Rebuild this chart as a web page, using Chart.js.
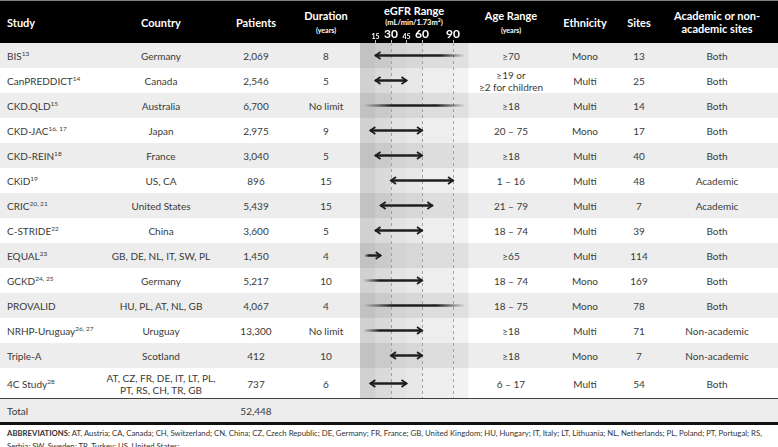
<!DOCTYPE html>
<html>
<head>
<meta charset="utf-8">
<script src="https://cdn.jsdelivr.net/npm/chart.js@4.4.0/dist/chart.umd.min.js"></script>
<style>
body { margin:0; width:778px; height:447px; overflow:hidden; background:#fff; font-family:Lato, 'Noto Sans', sans-serif; color:#3a3a3a; position:relative; }
.row { position:absolute; left:0; width:778px; }
.cell { position:absolute; top:0; height:100%; width:200px; display:flex; flex-direction:column; align-items:center; justify-content:center; text-align:center; font-size:10px; line-height:12px; white-space:nowrap; }
.cell.left { align-items:flex-start; text-align:left; width:180px; }
sup { font-size:6.5px; vertical-align:4px; line-height:0; }
.hdr { position:absolute; left:0; top:0; width:778px; height:43px; background:#000; color:#fff; border-top:1px solid #808080; box-sizing:border-box; }
.hdr .cell { font-weight:bold; font-size:11px; line-height:13px; }
.hdr .sub { font-size:7px; line-height:10px; }
.line { position:absolute; left:0; width:778px; z-index:6; }
#abbr { position:absolute; left:7px; top:427px; font-size:7.75px; line-height:12.5px; color:#333; white-space:nowrap; }
#wrap { position:absolute; left:350px; top:0; width:130px; height:399px; z-index:5; }
</style>
</head>
<body>
<div class="hdr" id="hdr"></div>
<div id="rows"></div>
<div class="line" style="top:397.5px;height:1.6px;background:#404040"></div>
<div class="row" style="top:399px;height:23px;background:#ededed">
  <div class="cell left" style="left:7px">Total</div>
  <div class="cell" style="left:156px">52,448</div>
</div>
<div class="line" style="top:422px;height:2.5px;background:#111"></div>
<div id="abbr"><b>ABBREVIATIONS:</b> AT, Austria; CA, Canada; CH, Switzerland; CN, China; CZ, Czech Republic; DE, Germany; FR, France; GB, United Kingdom; HU, Hungary; IT, Italy; LT, Lithuania; NL, Netherlands; PL, Poland; PT, Portugal; RS,<br>Serbia; SW, Sweden; TR, Turkey; US, United States;</div>
<div id="wrap"><canvas id="myChart" width="130" height="399"></canvas></div>

<script>
// table data
var studyNames = ['BIS', 'CanPREDDICT', 'CKD.QLD', 'CKD-JAC', 'CKD-REIN', 'CKiD', 'CRIC', 'C-STRIDE', 'EQUAL', 'GCKD', 'PROVALID', 'NRHP-Uruguay', 'Triple-A', '4C Study'];
var studyRefs = ['13', '14', '15', '16, 17', '18', '19', '20, 21', '22', '23', '24, 25', '', '26, 27', '', '28'];
var countries = ['Germany', 'Canada', 'Australia', 'Japan', 'France', 'US, CA', 'United States', 'China', 'GB, DE, NL, IT, SW, PL', 'Germany', 'HU, PL, AT, NL, GB', 'Uruguay', 'Scotland', 'AT, CZ, FR, DE, IT, LT, PL,|PT, RS, CH, TR, GB'];
var patients = ['2,069', '2,546', '6,700', '2,975', '3,040', '896', '5,439', '3,600', '1,450', '5,217', '4,067', '13,300', '412', '737'];
var durations = ['8', '5', 'No limit', '9', '5', '15', '15', '5', '4', '10', '4', 'No limit', '10', '6'];
var ageRanges = ['≥70', '≥19 or|≥2 for children', '≥18', '20 – 75', '≥18', '1 – 16', '21 – 79', '18 – 74', '≥65', '18 – 74', '18 – 75', '≥18', '≥18', '6 – 17'];
var ethnicity = ['Mono', 'Multi', 'Multi', 'Mono', 'Multi', 'Multi', 'Multi', 'Multi', 'Multi', 'Mono', 'Mono', 'Multi', 'Mono', 'Multi'];
var sites = ['13', '25', '14', '17', '40', '48', '7', '39', '114', '169', '78', '71', '7', '54'];
var siteTypes = ['Both', 'Both', 'Both', 'Both', 'Both', 'Academic', 'Academic', 'Both', 'Both', 'Both', 'Both', 'Non-academic', 'Non-academic', 'Both'];

// eGFR ranges (mL/min/1.73m2), 'open' = faded end
var egfrLow = [15, 15, 3, 10, 15, 30, 20, 15, 4, 3, 3, 3, 30, 10];
var egfrHigh = [102, 45, 102, 60, 60, 90, 70, 60, 20, 60, 102, 60, 60, 45];
var lowEnd = ['arrow', 'arrow', 'open', 'arrow', 'arrow', 'arrow', 'arrow', 'arrow', 'open', 'open', 'open', 'open', 'arrow', 'arrow'];
var highEnd = ['open', 'arrow', 'open', 'arrow', 'arrow', 'arrow', 'arrow', 'arrow', 'arrow', 'arrow', 'open', 'arrow', 'arrow', 'arrow'];
var tickValues = [15, 30, 45, 60, 90];
var bigTicks = [30, 60, 90];

// layout
var rowHeights = [25, 25, 25, 25, 25, 25, 25, 25, 25, 25, 25, 25, 25, 31];
var headTop = 43;
var colX = { country: 161, patients: 256, duration: 326, age: 511, eth: 585, sites: 639, acad: 717 };

function cell(cx, html, cls) {
    var lines = html.split('|').map(function (t) { return '<div>' + t + '</div>'; }).join('');
    return '<div class="cell ' + (cls || '') + '" style="left:' + (cx - 100) + 'px">' + lines + '</div>';
}

// header
var hdr = '<div class="cell left" style="left:7px">Study</div>';
hdr += cell(colX.country, 'Country');
hdr += cell(colX.patients, 'Patients');
hdr += cell(colX.duration, 'Duration|<span class="sub">(years)</span>');
hdr += '<div class="cell" style="left:314px;height:auto;top:3px">eGFR Range</div>';
hdr += '<div class="cell" style="left:314px;height:auto;top:17px"><span class="sub" style="font-size:7.5px">(mL/min/1.73m<sup style="font-size:5px;vertical-align:3px">2</sup>)</span></div>';
hdr += cell(colX.age, 'Age Range|<span class="sub">(years)</span>');
hdr += cell(colX.eth, 'Ethnicity');
hdr += cell(colX.sites, 'Sites');
hdr += cell(colX.acad, 'Academic or non-|academic sites');
document.getElementById('hdr').innerHTML = hdr;

// body rows
var rowCenters = [];
var html = '';
var rowTop = headTop;
for (var i = 0; i < studyNames.length; i++) {
    var h = rowHeights[i];
    rowCenters.push(rowTop - headTop + h / 2);
    var name = '<span>' + studyNames[i] + (studyRefs[i] ? '<sup>' + studyRefs[i] + '</sup>' : '') + '</span>';
    html += '<div class="row" style="top:' + rowTop + 'px;height:' + h + 'px;background:' + (i % 2 === 0 ? '#ededed' : '#fff') + '">';
    html += '<div class="cell left" style="left:7px">' + name + '</div>';
    html += cell(colX.country, countries[i]);
    html += cell(colX.patients, patients[i]);
    html += cell(colX.duration, durations[i]);
    html += cell(colX.age, ageRanges[i]);
    html += cell(colX.eth, ethnicity[i]);
    html += cell(colX.sites, sites[i]);
    html += cell(colX.acad, siteTypes[i]);
    html += '</div>';
    rowTop += h;
}
document.getElementById('rows').innerHTML = html;
var bodyHeight = rowTop - headTop;

// shaded eGFR band behind the ranges
var bandSteps = [0, 15, 30, 45, 60, 90, 105];
var bandAlpha = [0.18, 0.145, 0.11, 0.09, 0.065, 0.05];

var bandPlugin = {
    id: 'band',
    beforeDraw: function (chart) {
        var ctx = chart.ctx, x = chart.scales.x, a = chart.chartArea;
        for (var k = 0; k < bandAlpha.length; k++) {
            var x0 = x.getPixelForValue(bandSteps[k]);
            var x1 = x.getPixelForValue(bandSteps[k + 1]);
            ctx.fillStyle = 'rgba(0,0,0,' + bandAlpha[k] + ')';
            ctx.fillRect(x0, a.top, x1 - x0, a.bottom - a.top);
        }
    }
};

function drawHead(ctx, tip, y, dir) {
    ctx.beginPath();
    ctx.moveTo(tip - dir * 5, y - 3.5);
    ctx.lineTo(tip, y);
    ctx.lineTo(tip - dir * 5, y + 3.5);
    ctx.stroke();
}

var arrowPlugin = {
    id: 'arrows',
    afterDatasetsDraw: function (chart) {
        var ctx = chart.ctx, x = chart.scales.x;
        var meta = chart.getDatasetMeta(0);
        ctx.save();
        ctx.strokeStyle = '#1e1e1e';
        ctx.lineWidth = 1.8;
        meta.data.forEach(function (bar, i) {
            if (lowEnd[i] === 'arrow') drawHead(ctx, x.getPixelForValue(egfrLow[i]), bar.y, -1);
            if (highEnd[i] === 'arrow') drawHead(ctx, x.getPixelForValue(egfrHigh[i]), bar.y, 1);
        });
        ctx.restore();
    }
};

function DrawChart() {
    var ctx = document.getElementById('myChart').getContext('2d');

    var myChart = new Chart(ctx, {
        type: 'bar',
        data: {
            datasets: [{
                data: egfrLow.map(function (lo, i) { return { x: [lo, egfrHigh[i]], y: rowCenters[i] }; }),
                barThickness: 2,
                borderWidth: 0,
                borderSkipped: false,
                backgroundColor: function (c) {
                    var chart = c.chart, i = c.dataIndex;
                    if (!chart.chartArea || i === undefined) return '#1e1e1e';
                    var x = chart.scales.x;
                    var x0 = x.getPixelForValue(egfrLow[i]), x1 = x.getPixelForValue(egfrHigh[i]);
                    var g = chart.ctx.createLinearGradient(x0, 0, x1, 0);
                    var fl = lowEnd[i] === 'open', fh = highEnd[i] === 'open';
                    g.addColorStop(0, fl ? 'rgba(30,30,30,0)' : '#1e1e1e');
                    if (fl) g.addColorStop(0.28, '#1e1e1e');
                    if (fh) g.addColorStop(0.72, '#1e1e1e');
                    g.addColorStop(1, fh ? 'rgba(30,30,30,0)' : '#1e1e1e');
                    return g;
                }
            }]
        },
        options: {
            indexAxis: 'y',
            responsive: false,
            animation: false,
            devicePixelRatio: 1,
            layout: { padding: { left: 10, right: 11.5, top: 0, bottom: 0 } },
            plugins: { legend: { display: false }, tooltip: { enabled: false } },
            scales: {
                x: {
                    type: 'linear',
                    position: 'top',
                    min: 0,
                    max: 105,
                    afterBuildTicks: function (s) { s.ticks = tickValues.map(function (v) { return { value: v }; }); },
                    afterFit: function (s) { s.height = headTop; },
                    ticks: {
                        autoSkip: false,
                        maxRotation: 0,
                        padding: 0,
                        color: '#fff',
                        callback: function (v) { return String(v); },
                        font: function (c) {
                            var big = c.tick && bigTicks.indexOf(c.tick.value) >= 0;
                            return { family: 'Lato', weight: 'bold', size: big ? 12 : 7, lineHeight: 1 };
                        }
                    },
                    grid: {
                        drawTicks: true,
                        tickLength: 3,
                        lineWidth: 1,
                        color: function (c) {
                            return c.tick && bigTicks.indexOf(c.tick.value) >= 0 ? '#a2a2a2' : 'rgba(0,0,0,0)';
                        },
                        tickColor: '#bdbdbd'
                    },
                    border: { display: false, dash: [3, 3] }
                },
                y: {
                    type: 'linear',
                    display: false,
                    offset: false,
                    grid: { offset: false },
                    reverse: true,
                    min: 0,
                    max: bodyHeight
                }
            }
        },
        plugins: [bandPlugin, arrowPlugin]
    });
}

DrawChart();
</script>
</body>
</html>
